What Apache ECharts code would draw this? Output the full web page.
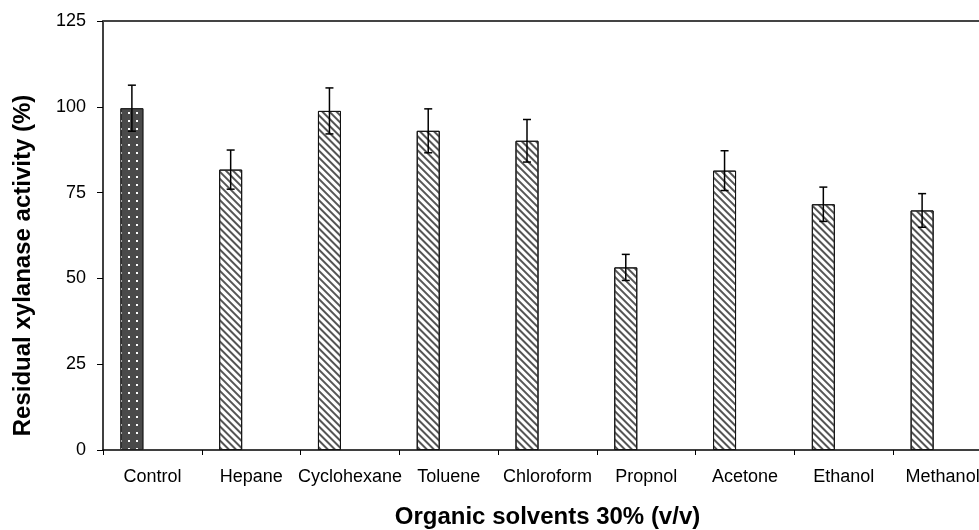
<!DOCTYPE html>
<html>
<head>
<meta charset="utf-8">
<script src="https://cdn.jsdelivr.net/npm/echarts@6/dist/echarts.min.js"></script>
<style>
  html, body { margin: 0; padding: 0; background: #fff; }
  #chart { width: 979px; height: 530px; }
</style>
</head>
<body>
<div id="chart"></div>
<script>
// data
var solvents = ['Control', 'Hepane', 'Cyclohexane', 'Toluene', 'Chloroform',
                'Propnol', 'Acetone', 'Ethanol', 'Methanol'];
var activity = [99.6, 81.7, 98.8, 93.0, 90.1, 53.2, 81.4, 71.6, 69.8];
var stdErr   = [6.7, 5.7, 6.7, 6.4, 6.2, 3.8, 5.8, 5.0, 4.9];
var yTicks   = [0, 25, 50, 75, 100, 125];

var BAR_W = 23;
var GAP = 18;
var OFFSET = (BAR_W + GAP) / 2;   // bar sits left of the band centre
var FONT = 'Liberation Sans, Arial, sans-serif';

var chart = echarts.init(document.getElementById('chart'));

var barData = activity.map(function (v, i) {
    if (i === 0) {
        return {
            value: v,
            itemStyle: {
                color: '#4a4a4a',
                borderColor: '#222',
                borderWidth: 1,
                decal: {
                    symbol: 'rect',
                    symbolSize: 1,
                    color: '#ffffff',
                    dashArrayX: [2, 6],
                    dashArrayY: [2, 5.3]
                }
            }
        };
    }
    return v;
});

var option = {
    backgroundColor: '#fff',
    animation: false,
    grid: {
        left: 103,
        right: -13,
        top: 21,
        bottom: 80,
        containLabel: false,
        outerBoundsMode: 'none'
    },
    xAxis: [{
        type: 'category',
        data: solvents,
        name: 'Organic solvents 30% (v/v)',
        nameLocation: 'middle',
        nameGap: 55,
        nameTextStyle: { fontFamily: FONT, fontSize: 24, fontWeight: 'bold', color: '#000' },
        axisLine: { lineStyle: { color: '#000', width: 1.5 } },
        axisTick: { show: true, inside: false, length: 5, lineStyle: { color: '#000' } },
        axisLabel: { fontFamily: FONT, fontSize: 18, color: '#000', margin: 18, interval: 0 }
    }, {
        type: 'category',
        data: solvents,
        position: 'top',
        axisLine: { lineStyle: { color: '#444', width: 2 } },
        axisTick: { show: false },
        axisLabel: { show: false }
    }],
    yAxis: {
        type: 'value',
        min: yTicks[0],
        max: yTicks[yTicks.length - 1],
        interval: 25,
        name: 'Residual xylanase activity (%)',
        nameLocation: 'middle',
        nameGap: 68,
        nameTextStyle: {
            fontFamily: FONT, fontSize: 24, fontWeight: 'bold', color: '#000',
            padding: [0, 60, 0, 0]
        },
        axisLine: { show: true, lineStyle: { color: '#000', width: 1.5 } },
        axisTick: { show: true, inside: false, length: 6, lineStyle: { color: '#000' } },
        axisLabel: { fontFamily: FONT, fontSize: 18, color: '#000', margin: 17 },
        splitLine: { show: false }
    },
    series: [{
        name: 'activity',
        type: 'bar',
        barWidth: BAR_W,
        barGap: (GAP / BAR_W * 100) + '%',
        data: barData,
        itemStyle: {
            color: '#ffffff',
            borderColor: '#111',
            borderWidth: 1,
            decal: {
                symbol: 'rect',
                symbolSize: 1,
                color: '#555',
                dashArrayX: [1, 0],
                dashArrayY: [1.6, 3],
                rotation: Math.PI / 4
            }
        }
    }, {
        // empty companion series, keeps the bars left of centre
        name: 'blank',
        type: 'bar',
        barWidth: BAR_W,
        data: solvents.map(function () { return '-'; })
    }, {
        name: 'error',
        type: 'custom',
        data: activity.map(function (v, i) { return [i, v - stdErr[i], v + stdErr[i]]; }),
        z: 10,
        renderItem: function (params, api) {
            var lo = api.coord([api.value(0), api.value(1)]);
            var hi = api.coord([api.value(0), api.value(2)]);
            var x = lo[0] - OFFSET;
            var cap = 4;
            var style = { stroke: '#000', lineWidth: 1.5 };
            return {
                type: 'group',
                children: [
                    { type: 'line', shape: { x1: x, y1: hi[1], x2: x, y2: lo[1] }, style: style },
                    { type: 'line', shape: { x1: x - cap, y1: hi[1], x2: x + cap, y2: hi[1] }, style: style },
                    { type: 'line', shape: { x1: x - cap, y1: lo[1], x2: x + cap, y2: lo[1] }, style: style }
                ]
            };
        }
    }]
};

chart.setOption(option);
</script>
</body>
</html>
